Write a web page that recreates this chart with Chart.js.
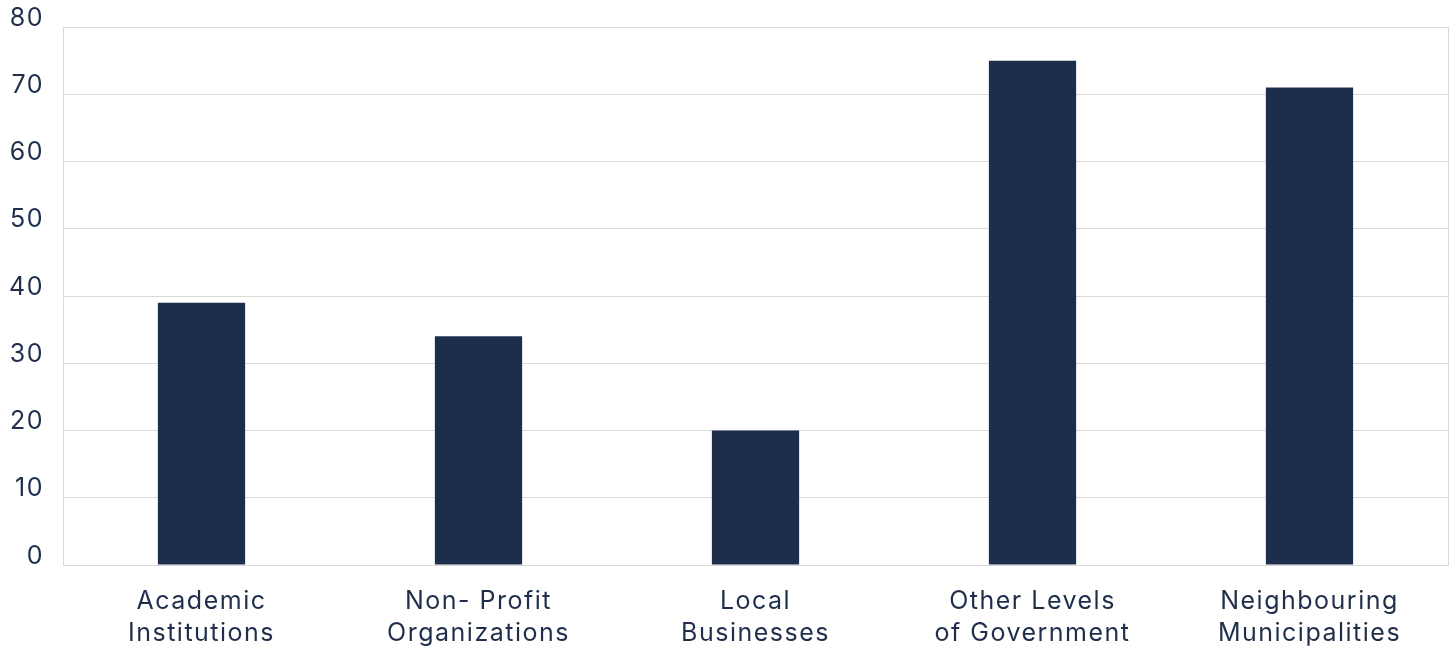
<!DOCTYPE html>
<html>
<head>
<meta charset="utf-8">
<script src="https://cdn.jsdelivr.net/npm/chart.js@4"></script>
<style>
  html, body { margin: 0; padding: 0; background: #fff; }
  #wrap { width: 1452px; height: 647px; }
</style>
</head>
<body>
<div id="wrap"><canvas id="partnersChart"></canvas></div>
<script>
const categories = [
  ['Academic', 'Institutions'],
  ['Non- Profit', 'Organizations'],
  ['Local', 'Businesses'],
  ['Other Levels', 'of Government'],
  ['Neighbouring', 'Municipalities']
];
const counts = [39, 34, 20, 75, 71];
const yTicks = [0, 10, 20, 30, 40, 50, 60, 70, 80];

const navy = '#1d2e4c';
const textColor = '#1f2f4b';
const gridColor = '#d9d9d9';

// wider tracking on all canvas text
const spacing = {
  id: 'spacing',
  beforeUpdate(chart) { chart.ctx.letterSpacing = '1.5px'; },
  beforeDraw(chart) { chart.ctx.letterSpacing = '1.5px'; }
};

const dataBar = {
  labels: categories,
  datasets: [{
    data: counts,
    backgroundColor: navy,
    borderWidth: 0,
    categoryPercentage: 1,
    barPercentage: 0.315
  }]
};

const configBar = {
  type: 'bar',
  data: dataBar,
  plugins: [spacing],
  options: {
    responsive: true,
    maintainAspectRatio: false,
    animation: false,
    layout: { padding: { top: 27, right: 4, bottom: 0, left: 0 } },
    plugins: {
      legend: { display: false },
      tooltip: { enabled: false }
    },
    scales: {
      x: {
        grid: { display: false, drawTicks: false },
        border: { color: gridColor },
        ticks: {
          color: textColor,
          padding: 20,
          font: { family: 'Inter', size: 25, lineHeight: 1.28 },
          maxRotation: 0
        },
        afterFit(scale) { scale.height = 82; }
      },
      y: {
        min: 0,
        max: 80,
        afterBuildTicks(scale) { scale.ticks = yTicks.map(v => ({ value: v })); },
        grid: { color: gridColor, drawTicks: false },
        border: { color: gridColor },
        ticks: {
          color: textColor,
          padding: 19,
          labelOffset: -9,
          font: { family: 'Inter', size: 25 }
        },
        afterFit(scale) {
          scale.width = 63;
          scale.paddingTop = 0;
          scale.paddingBottom = 0;
        }
      },
      y2: {
        position: 'right',
        grid: { display: false, drawTicks: false },
        border: { color: gridColor },
        ticks: { display: false }
      }
    }
  }
};

var myChartBar = new Chart(
  document.getElementById('partnersChart'),
  configBar
);
</script>
</body>
</html>
